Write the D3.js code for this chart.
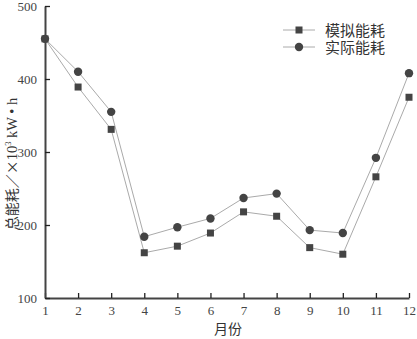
<!DOCTYPE html>
<html><head><meta charset="utf-8">
<script src="https://cdn.jsdelivr.net/npm/d3@7"></script>
<style>body{margin:0;background:#fff}</style>
</head><body>
<svg id="c" width="417" height="339"></svg>
<script>
const months = [1,2,3,4,5,6,7,8,9,10,11,12];
const simulated = [455,389,331,162,171,189,218,212,169,160,266,375];
const actual = [455,410,355,184,197,209,237,243,193,189,292,408];
const yTicks = [100,200,300,400,500];
const seriesNames = ["模拟能耗","实际能耗"];

const svg = d3.select("#c");
const x = d3.scaleLinear().domain([1,12]).range([45,409]);
const y = d3.scaleLinear().domain([100,500]).range([298,6]);
const serif = "'Liberation Serif','Times New Roman',serif";
const cjk = "'Noto Sans CJK SC',sans-serif";
const dark = "#444";

const xAxis = svg.append("g").attr("transform","translate(0,298)")
  .call(d3.axisBottom(x).tickValues(months).tickFormat(d3.format("d")).tickSizeInner(-5).tickSizeOuter(0).tickPadding(8));
const yAxis = svg.append("g").attr("transform","translate(45,0)")
  .call(d3.axisLeft(y).tickValues(yTicks).tickSizeInner(-5).tickSizeOuter(0).tickPadding(8));
[xAxis,yAxis].forEach(a=>{
  a.select(".domain").attr("stroke",dark).attr("stroke-width",2);
  a.selectAll(".tick line").attr("stroke","#222").attr("stroke-width",1.3);
  a.selectAll("text").attr("font-family",serif).attr("font-size",13).attr("fill","#444");
});

const line = d3.line().x((d,i)=>x(months[i])).y(d=>y(d));
[simulated,actual].forEach(s=>{
  svg.append("path").datum(s).attr("d",line).attr("fill","none").attr("stroke","#aaa").attr("stroke-width",1);
});
svg.selectAll(".sq").data(simulated).enter().append("rect")
  .attr("x",(d,i)=>x(months[i])-3.5).attr("y",d=>y(d)-3.5).attr("width",7).attr("height",7).attr("fill",dark);
svg.selectAll(".ci").data(actual).enter().append("circle")
  .attr("cx",(d,i)=>x(months[i])).attr("cy",d=>y(d)).attr("r",4.2).attr("fill",dark);

// legend
const lg = svg.append("g");
[0,1].forEach(i=>{
  const yy = 30 + i*17;
  lg.append("line").attr("x1",283).attr("x2",315).attr("y1",yy).attr("y2",yy).attr("stroke","#aaa");
  if(i===0) lg.append("rect").attr("x",295.5).attr("y",yy-3.5).attr("width",7).attr("height",7).attr("fill",dark);
  else lg.append("circle").attr("cx",299).attr("cy",yy).attr("r",4.2).attr("fill",dark);
  lg.append("text").attr("x",325).attr("y",yy+5.5).text(seriesNames[i])
    .attr("font-family",cjk).attr("font-size",15).attr("fill","#333");
});

svg.append("text").attr("x",228).attr("y",334).attr("text-anchor","middle")
  .attr("font-family",cjk).attr("font-size",14).attr("fill","#333").text("月份");
const yl = svg.append("text").attr("transform","translate(17,164) rotate(-90)").attr("text-anchor","middle")
  .attr("font-family",cjk).attr("font-size",14).attr("fill","#333");
yl.append("tspan").text("总能耗／×");
yl.append("tspan").attr("font-family",serif).attr("font-size",14.5).text("10");
yl.append("tspan").attr("font-family",serif).attr("font-size",8.5).attr("dy",-6).text("3");
yl.append("tspan").attr("font-family",serif).attr("font-size",14.5).attr("dy",6).text(" kW • h");
</script>
</body></html>
